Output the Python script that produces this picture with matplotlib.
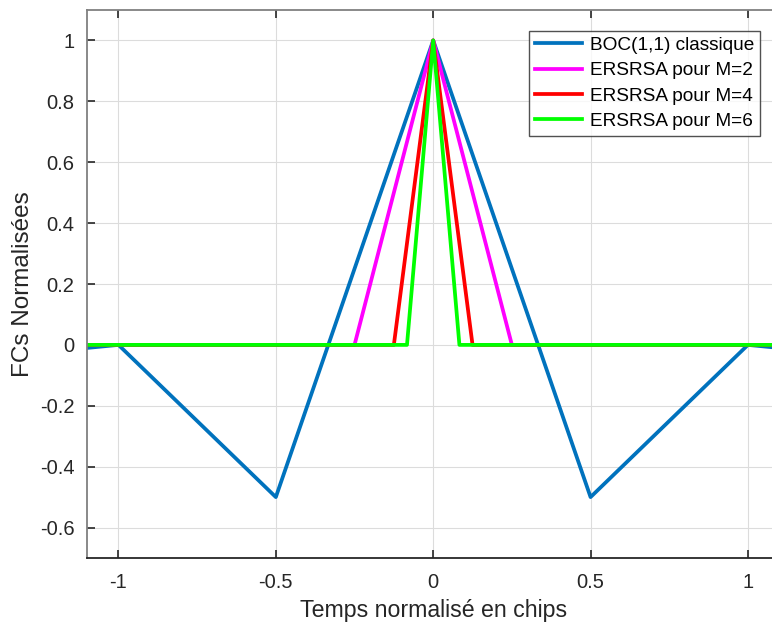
import matplotlib
matplotlib.use("Agg")
import matplotlib.pyplot as plt
import numpy as np

plt.rcParams['font.family'] = ['Liberation Sans', 'DejaVu Sans']

# Data
boc_x = [-1.1, -1.0, -0.5, 0.0, 0.5, 1.0, 1.1]
boc_y = [-0.01, 0.0, -0.5, 1.0, -0.5, 0.0, -0.01]

m2_x = [-1.1, -0.25, 0.0, 0.25, 1.1]
m2_y = [0.0, 0.0, 1.0, 0.0, 0.0]

m4_x = [-1.1, -0.125, 0.0, 0.125, 1.1]
m4_y = [0.0, 0.0, 1.0, 0.0, 0.0]

m6_x = [-1.1, -0.0833, 0.0, 0.0833, 1.1]
m6_y = [0.0, 0.0, 1.0, 0.0, 0.0]

labels = ["BOC(1,1) classique", "ERSRSA pour M=2", "ERSRSA pour M=4", "ERSRSA pour M=6"]
xticks = [-1, -0.5, 0, 0.5, 1]
xticklabels = ["-1", "-0.5", "0", "0.5", "1"]
yticks = [-0.6, -0.4, -0.2, 0, 0.2, 0.4, 0.6, 0.8, 1]
yticklabels = ["-0.6", "-0.4", "-0.2", "0", "0.2", "0.4", "0.6", "0.8", "1"]

fig = plt.figure(figsize=(7.72, 6.24), dpi=100)
axw = (779.4 - 87) / 772
ax = fig.add_axes([87/772, 66/624, axw, 548/624])

lw = 2.7
ax.plot(boc_x, boc_y, color='#0072BD', lw=lw, label=labels[0])
ax.plot(m2_x, m2_y, color='#FF00FF', lw=lw, label=labels[1])
ax.plot(m4_x, m4_y, color='#FF0000', lw=lw, label=labels[2])
ax.plot(m6_x, m6_y, color='#00FF00', lw=lw, label=labels[3])

ax.set_xlim(-1.1, 1.1)
ax.set_ylim(-0.7, 1.1)
ax.set_xticks(xticks)
ax.set_xticklabels(xticklabels)
ax.set_yticks(yticks)
ax.set_yticklabels(yticklabels)
ax.grid(True, color='#dcdcdc', lw=0.8)
ax.set_axisbelow(True)
ax.tick_params(direction='in', length=6, width=1.2, colors='#262626', labelsize=14.5,
               top=True, right=False)
ax.tick_params(axis='y', pad=9)
ax.tick_params(axis='x', pad=11)

for s in ['left', 'top']:
    ax.spines[s].set_color('#808080')
    ax.spines[s].set_linewidth(1.3)
ax.spines['bottom'].set_color('#262626')
ax.spines['bottom'].set_linewidth(1.3)
ax.spines['right'].set_visible(False)

ax.set_xlabel("Temps normalisé en chips", fontsize=16.7, color='#262626', labelpad=5)
ax.set_ylabel("FCs Normalisées", fontsize=17.5, color='#262626', labelpad=4)

# legend right edge at px 760, top at px 31
leg = ax.legend(loc='upper right',
                bbox_to_anchor=((760 - 87) / (779.4 - 87), 1 - 21/548),
                fontsize=13.7, frameon=True, fancybox=False, edgecolor='#262626',
                handlelength=2.5, handletextpad=0.4, borderpad=0.3, labelspacing=0.42,
                borderaxespad=0)
leg.get_frame().set_linewidth(1.0)

fig.savefig("out.png", dpi=100)
